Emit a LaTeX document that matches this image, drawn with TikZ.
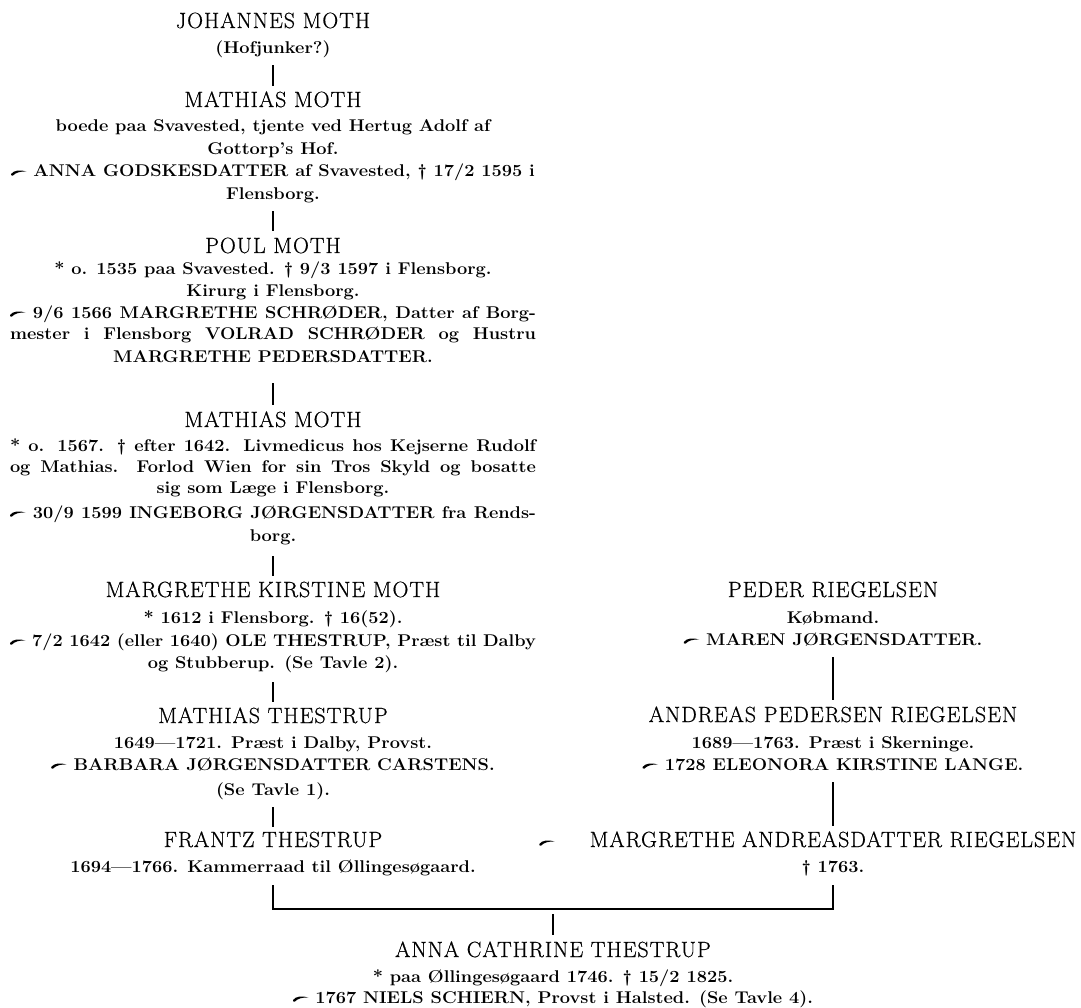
\documentclass[tikz,border=0pt]{standalone}
\usepackage{fontspec}
\setmainfont{Latin Modern Roman}
\newfontfamily\nmfont[FakeBold=0.6,LetterSpace=4.5]{Latin Modern Roman}
\newfontfamily\dtfont[FakeStretch=1.07]{Latin Modern Roman}
\newcommand{\vm}{\tikz[baseline=0pt,x=1pt,y=1pt]{\fill (0,3.0) .. controls (3,7.0) and (9,7.2) .. (15.5,5.6) .. controls (9,5.6) and (5,4.6) .. (1.8,1.4) .. controls (0,1.4) .. (0,3.0) -- cycle;}}
\newcommand{\jl}[1]{\makebox[526pt][s]{#1}}
\tikzset{
  nm/.style={font=\fontsize{22pt}{24pt}\nmfont, anchor=base, inner sep=0pt, text height=15pt, text depth=0pt},
  dt/.style={font=\fontsize{17pt}{20pt}\dtfont\bfseries, anchor=base, inner sep=0pt, text height=12pt, text depth=4pt},
  ln/.style={line width=1.3pt}
}
\begin{document}
\begin{tikzpicture}[x=1pt,y=-1pt]
\fill[white] (0,0) rectangle (1081,1008);
\useasboundingbox (0,0) rectangle (1081,1008);
% ---- left column, x = 273
\node[nm] (n1) at (273,28) {JOHANNES MOTH};
\node[dt] (d1a) at (273,54) {(Hofjunker?)};
\node[nm] (n2) at (273,107) {MATHIAS MOTH};
\node[dt] (d2a) at (273,132) {boede paa Svavested, tjente ved Hertug Adolf af};
\node[dt] (d2b) at (273,155) {Gottorp’s Hof.};
\node[dt] (d2c) at (273,177) {\vm\ ANNA GODSKESDATTER af Svavested, † 17/2 1595 i};
\node[dt] (d2d) at (273,200) {Flensborg.};
\node[nm] (n3) at (273,253) {POUL MOTH};
\node[dt] (d3a) at (273,274) {* o. 1535 paa Svavested. † 9/3 1597 i Flensborg.};
\node[dt] (d3b) at (273,296) {Kirurg i Flensborg.};
\node[dt] (d3c) at (273,318) {\jl{\vm\ 9/6 1566 MARGRETHE SCHRØDER, Datter af Borg-}};
\node[dt] (d3d) at (273,339) {\jl{mester i Flensborg VOLRAD SCHRØDER og Hustru}};
\node[dt] (d3e) at (273,362) {MARGRETHE PEDERSDATTER.};
\node[nm] (n4) at (273,427) {MATHIAS MOTH};
\node[dt] (d4a) at (273,451) {\jl{* o. 1567. † efter 1642. Livmedicus hos Kejserne Rudolf}};
\node[dt] (d4b) at (273,472) {\jl{og Mathias. Forlod Wien for sin Tros Skyld og bosatte}};
\node[dt] (d4c) at (273,493) {sig som Læge i Flensborg.};
\node[dt] (d4d) at (273,518) {\jl{\vm\ 30/9 1599 INGEBORG JØRGENSDATTER fra Rends-}};
\node[dt] (d4e) at (273,541) {borg.};
\node[nm] (n5) at (273,597) {MARGRETHE KIRSTINE MOTH};
\node[dt] (d5a) at (273,623) {* 1612 i Flensborg. † 16(52).};
\node[dt] (d5b) at (273,646) {\jl{\vm\ 7/2 1642 (eller 1640) OLE THESTRUP, Præst til Dalby}};
\node[dt] (d5c) at (273,668) {og Stubberup. (Se Tavle 2).};
\node[nm] (n6) at (273,723) {MATHIAS THESTRUP};
\node[dt] (d6a) at (273,748) {1649—1721. Præst i Dalby, Provst.};
\node[dt] (d6b) at (273,770) {\vm\ BARBARA JØRGENSDATTER CARSTENS.};
\node[dt] (d6c) at (273,795) {(Se Tavle 1).};
\node[nm] (n7) at (273,847) {FRANTZ THESTRUP};
\node[dt] (d7a) at (273,872) {1694—1766. Kammerraad til Øllingesøgaard.};
% ---- right column, x = 833
\node[nm] (r1) at (833,597) {PEDER RIEGELSEN};
\node[dt] (r1a) at (833,623) {Købmand.};
\node[dt] (r1b) at (833,645) {\vm\ MAREN JØRGENSDATTER.};
\node[nm] (r2) at (833,722) {ANDREAS PEDERSEN RIEGELSEN};
\node[dt] (r2a) at (833,748) {1689—1763. Præst i Skerninge.};
\node[dt] (r2b) at (833,770) {\vm\ 1728 ELEONORA KIRSTINE LANGE.};
\node[nm] (r3) at (833,847) {MARGRETHE ANDREASDATTER RIEGELSEN};
\node[dt] (r3a) at (833,872) {† 1763.};
\node[dt] (mar) at (547,847) {\vm};
% ---- bottom
\node[nm] (b1) at (553,957) {ANNA CATHRINE THESTRUP};
\node[dt] (b1a) at (553,982) {* paa Øllingesøgaard 1746. † 15/2 1825.};
\node[dt] (b1b) at (553,1003) {\vm\ 1767 NIELS SCHIERN, Provst i Halsted. (Se Tavle 4).};
% ---- connectors
\draw[ln] ([yshift=-7pt]d1a.south) -- ([yshift=6pt]n2.north);
\draw[ln] ([yshift=-7pt]d2d.south) -- ([yshift=7pt]n3.north);
\draw[ln] ([yshift=-17pt]d3e.south) -- ([yshift=7pt]n4.north);
\draw[ln] ([yshift=-11pt]d4e.south) -- ([yshift=6pt]n5.north);
\draw[ln] ([yshift=-10pt]d5c.south) -- ([yshift=6pt]n6.north);
\draw[ln] ([yshift=-8pt]d6c.south) -- ([yshift=5pt]n7.north);
\draw[ln] ([yshift=-8pt]r1b.south) -- ([yshift=7pt]r2.north);
\draw[ln] ([yshift=-8pt]r2b.south) -- ([yshift=6pt]r3.north);
\coordinate (hl) at (553,909);
\draw[ln] ([yshift=-9pt]d7a.south) |- (hl) -| ([yshift=-9pt]r3a.south);
\draw[ln] ([yshift=-5pt]hl) -- ([yshift=7pt]b1.north);
\end{tikzpicture}
\end{document}
